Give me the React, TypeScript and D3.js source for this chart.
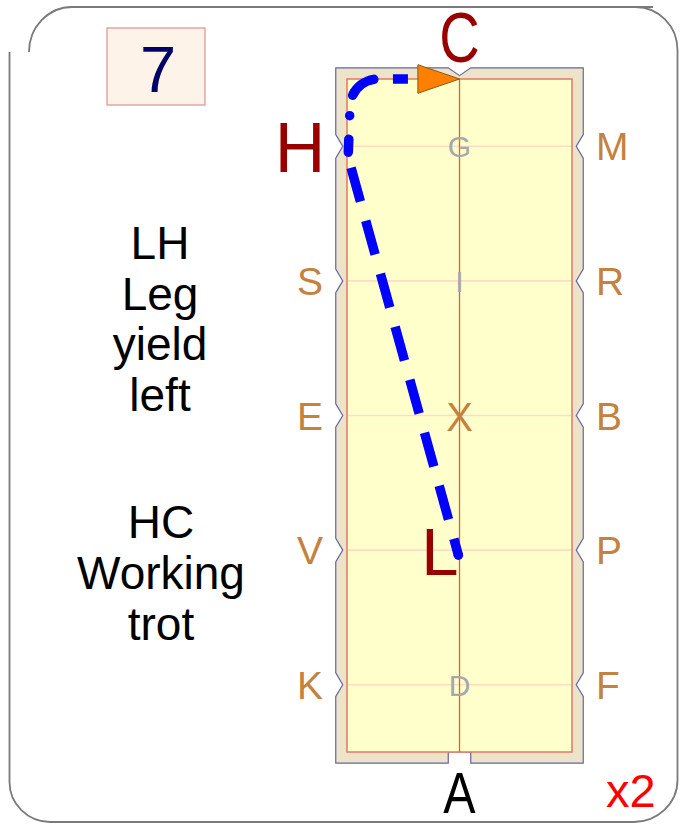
import React from "react";
import * as d3 from "d3";

// ---- data ----
const arenaWidthM = 20;
const arenaLengthM = 60;
const markerRows = [6, 18, 30, 42, 54];
const leftLetters = ["H", "S", "E", "V", "K"];
const rightLetters = ["M", "R", "B", "P", "F"];
const centreLetters = ["G", "I", "X", "L", "D"];
const movementA = ["LH", "Leg", "yield", "left"];
const movementB = ["HC", "Working", "trot"];
const figureNumber = "7";
const repeatLabel = "x2";
// route in arena metres (x across, y from C)
const diagonalRoute: [number, number][] = [
  [0.1, 6.97],
  [9.9, 42.45],
];
const cornerRoute: [number, number][] = [
  [0.1, 6.97],
  [0.27, 2.5],
];
const cornerRadiusM = 2.5;
const topRoute: [number, number][] = [
  [2.75, 0],
  [6.3, 0],
];
const arrowTip: [number, number] = [10, 0];

export default function App() {
  const x = d3.scaleLinear().domain([0, arenaWidthM]).range([347, 572]);
  const y = d3.scaleLinear().domain([0, arenaLengthM]).range([79, 752]);
  const cx = x(arenaWidthM / 2);

  // outer wall polygon
  const xl = x(-1), xr = x(arenaWidthM + 1), yt = y(-1), yb = y(arenaLengthM + 1);
  const notchDepth = 7;
  const nh = 1.05;
  const pts: [number, number][] = [];
  pts.push([xl, yt], [x(9), yt], [cx, y(-0.3)], [x(11), yt], [xr, yt]);
  markerRows.forEach((m) => {
    pts.push([xr, y(m - nh)], [xr - notchDepth, y(m)], [xr, y(m + nh)]);
  });
  pts.push([xr, yb], [x(11), yb], [x(11), y(arenaLengthM)], [x(9), y(arenaLengthM)], [x(9), yb], [xl, yb]);
  [...markerRows].reverse().forEach((m) => {
    pts.push([xl, y(m + nh)], [xl + notchDepth, y(m)], [xl, y(m - nh)]);
  });
  const outerPath = "M" + pts.map((p) => p.join(",")).join("L") + "Z";

  const line = d3.line<[number, number]>().x((d) => x(d[0])).y((d) => y(d[1]));

  const cp = d3.path();
  cp.moveTo(x(cornerRoute[0][0]), y(cornerRoute[0][1]));
  cp.lineTo(x(cornerRoute[1][0]), y(cornerRoute[1][1]));
  const rPx = x(cornerRadiusM) - x(0);
  cp.arcTo(x(cornerRoute[1][0]), y(0), x(topRoute[0][0]), y(0), rPx);
  cp.lineTo(x(topRoute[0][0]), y(0));

  const end = diagonalRoute[1];
  const baseX = x(topRoute[1][0]);
  const tipX = x(arrowTip[0]);
  const tipY = y(arrowTip[1]);

  const sideFont = "'Liberation Sans', Arial, sans-serif";
  const brown = "#c4823f";

  return (
    <svg width={685} height={831} style={{ position: "absolute", left: 0, top: 0 }} fontFamily={sideFont}>
      <rect width={685} height={831} fill="#fff" />
      {/* card border */}
      <g fill="none" stroke="#7a7a7a" strokeWidth={1.8}>
        <path d="M72,7 H653 M635,7 A42,43 0 0 1 677.5,50 V780 A44,42 0 0 1 633,822 H50 A41,40 0 0 1 9.5,782 V52 M29,52 A43,45 0 0 1 72,7" />
      </g>

      {/* figure number */}
      <rect x={107} y={28} width={98} height={77} fill="#fdf3e8" stroke="#e09090" strokeWidth={1.2} />
      <text x={158} y={92} fontSize={65} fill="#000066" textAnchor="middle">{figureNumber}</text>

      {/* movements */}
      <g fontSize={46} fill="#000" textAnchor="middle">
        {movementA.map((t, i) => (
          <text key={t} x={160} y={259 + i * 50.5}>{t}</text>
        ))}
        {movementB.map((t, i) => (
          <text key={t} x={161} y={538 + i * 51}>{t}</text>
        ))}
      </g>

      {/* arena */}
      <path d={outerPath} fill="#ece4c9" stroke="#6464a8" strokeWidth={1.2} />
      <rect x={x(0)} y={y(0)} width={x(arenaWidthM) - x(0)} height={y(arenaLengthM) - y(0)} fill="#ffffcc" stroke="#e27a63" strokeWidth={1.5} />
      {markerRows.map((m) => (
        <line key={m} x1={x(0) + 1} x2={x(arenaWidthM) - 1} y1={y(m)} y2={y(m)} stroke="#fddcc4" strokeWidth={1.6} />
      ))}
      <line x1={cx} x2={cx} y1={y(0)} y2={y(arenaLengthM)} stroke="#e05a48" strokeWidth={1.3} />

      {/* letters */}
      <g fontSize={39} fill={brown}>
        {leftLetters.map((l, i) =>
          l === "H" ? null : (
            <text key={l} x={323} y={y(markerRows[i]) + 14} textAnchor="end">{l}</text>
          )
        )}
        {rightLetters.map((l, i) => (
          <text key={l} x={596} y={y(markerRows[i]) + 14} textAnchor="start">{l}</text>
        ))}
      </g>
      {centreLetters.map((l, i) => {
        const yy = y(markerRows[i]);
        if (l === "X")
          return <text key={l} x={cx} y={yy + 15} fontSize={40} fill={brown} textAnchor="middle">{l}</text>;
        if (l === "L")
          return <text key={l} x={440} y={yy + 25} fontSize={67} fill="#990000" textAnchor="middle">{l}</text>;
        return <text key={l} x={cx} y={yy + 11} fontSize={30} fill="#a8a8a8" textAnchor="middle">{l}</text>;
      })}
      <text x={300} y={172} fontSize={70} fill="#990000" textAnchor="middle">H</text>
      <text transform={`translate(${cx},62) scale(0.8,1)`} fontSize={70} fill="#990000" textAnchor="middle">C</text>
      <text transform={`translate(${cx},813) scale(0.85,1)`} fontSize={57} fill="#000" textAnchor="middle">A</text>
      <text x={606} y={807} fontSize={47} fill="#ff0000">{repeatLabel}</text>

      {/* route */}
      <g fill="none" stroke="#0000ff" strokeWidth={9.5}>
        <path d={line(diagonalRoute) || ""} strokeDasharray="35 20" strokeDashoffset={44} />
        <path d={cp.toString()} strokeLinecap="round" strokeDasharray="13 23.5 0 21 27.5 100" strokeDashoffset={180} />
        <path d={line(topRoute) || ""} strokeDasharray="15 25" strokeDashoffset={25} />
      </g>
      <circle cx={x(end[0])} cy={y(end[1])} r={4.75} fill="#0000ff" />
      <path
        d={`M${baseX},${tipY - 14.3}L${tipX},${tipY}L${baseX},${tipY + 14.3}Z`}
        fill="#ff8000"
        stroke="#8a5a10"
        strokeWidth={1}
      />
    </svg>
  );
}
